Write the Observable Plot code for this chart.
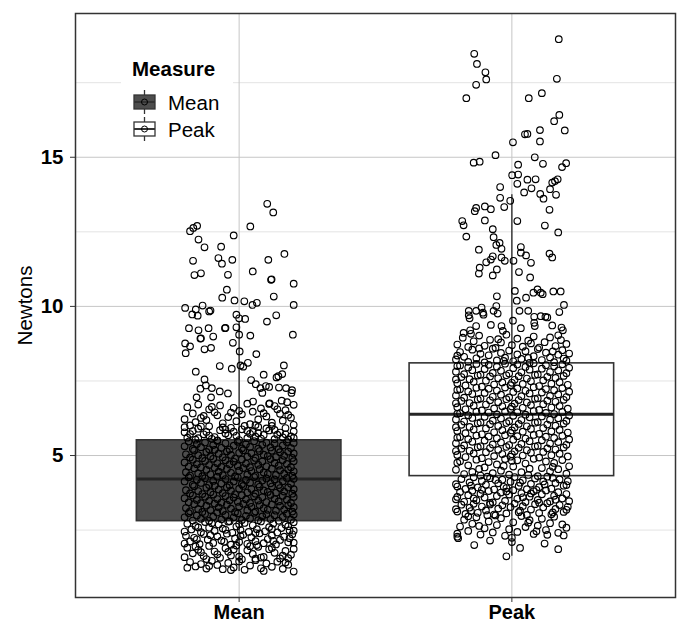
<!DOCTYPE html>
<html>
<head>
<meta charset="utf-8">
<script src="https://cdn.jsdelivr.net/npm/d3@7"></script>
<script src="https://cdn.jsdelivr.net/npm/@observablehq/plot@0.6"></script>
<style>
  html, body { margin: 0; padding: 0; background: #fff; }
  #wrap { position: relative; width: 681px; height: 624px; font-family: "Liberation Sans", Arial, sans-serif; }
  #legend { position: absolute; left: 121px; top: 45px; width: 112px; height: 105px; background: #fff; }
</style>
</head>
<body>
<div id="wrap">
  <div id="chart"></div>
  <div id="legend">
    <svg width="112" height="105" style="font-family:'Liberation Sans', Arial, sans-serif">
      <text x="11" y="31" font-size="20.5" font-weight="bold" fill="#000">Measure</text>
      <g stroke="#333" stroke-width="1.3">
        <line x1="23.5" x2="23.5" y1="45" y2="69"></line>
        <rect x="13" y="50" width="21" height="14" fill="#4d4d4d"></rect>
        <line x1="13" x2="34" y1="57" y2="57" stroke-width="2"></line>
        <circle cx="23.5" cy="57" r="3" fill="none" stroke="#000" stroke-width="1"></circle>
        <line x1="23.5" x2="23.5" y1="72" y2="96"></line>
        <rect x="13" y="77" width="21" height="14" fill="#fff"></rect>
        <line x1="13" x2="34" y1="84" y2="84" stroke-width="2"></line>
        <circle cx="23.5" cy="84" r="3" fill="none" stroke="#000" stroke-width="1"></circle>
      </g>
      <text x="47" y="65" font-size="20.5" fill="#000">Mean</text>
      <text x="47" y="92" font-size="20.5" fill="#000">Peak</text>
    </svg>
  </div>
</div>
<script>
// ---- data ----
const categories = ["Mean", "Peak"];
const boxQ1 = [2.80, 4.31];
const boxMedian = [4.21, 6.38];
const boxQ3 = [5.51, 8.09];
const whiskerLow = [1.11, 1.62];
const whiskerHigh = [9.49, 13.74];
const boxFill = ["#4d4d4d", "#ffffff"];
const yMajorTicks = [5, 10, 15];
const yMinorTicks = [2.5, 7.5, 12.5, 17.5];

// jittered observations: [horizontal jitter offset, Newtons]
const meanPoints = [
[0.103,13.44],[0.125,13.15],[-0.18,12.52],[-0.168,12.63],[-0.154,12.7],[0.041,12.68],[-0.02,12.38],[-0.149,12.24],[-0.127,11.98],[-0.066,12.0],[0.166,11.76],[-0.169,11.53],[-0.076,11.62],[-0.063,11.43],[-0.025,11.56],[0.107,11.56],[-0.164,11.05],[-0.14,11.11],[-0.041,11.06],[0.05,11.17],[0.117,10.89],[0.119,10.91],[0.2,10.76],[-0.045,10.56],[-0.062,10.29],[-0.017,10.2],[0.019,10.17],[0.065,10.12],[0.127,10.33],
[-0.198,9.95],[-0.159,9.9],[-0.172,9.73],[-0.152,9.69],[-0.134,10.03],[-0.105,9.86],[-0.11,9.83],[0.049,10.05],[0.2,10.05],[-0.01,9.72],[0.0,9.6],[0.022,9.58],[0.102,9.49],[0.136,9.7],[-0.184,9.27],[-0.149,9.2],[-0.112,9.27],[-0.052,9.27],[-0.05,9.28],[-0.01,9.3],[-0.142,8.92],[-0.14,8.93],[-0.095,8.99],[0.0,9.05],[0.041,9.02],[0.197,9.05],[-0.198,8.76],[-0.18,8.66],[-0.196,8.43],[-0.127,8.56],[-0.103,8.61],[-0.023,8.78],[0.002,8.49],[0.063,8.4],[-0.071,8.0],[-0.027,7.91],[0.005,8.02],[0.015,7.98],[0.032,8.11],[0.164,8.02],[-0.159,7.81],[-0.127,7.55],[-0.142,7.24],[-0.122,7.35],[-0.1,7.26],[-0.071,7.15],[-0.041,7.08],[-0.156,6.95],[-0.103,6.95],[0.044,7.53],[0.061,7.39],[0.09,7.71],[0.137,7.62],[0.144,7.66],[0.158,7.73],[0.098,7.33],[0.11,7.3],[0.078,7.26],[0.146,7.28],[0.172,7.26],[0.194,7.19],[0.192,7.1],[0.051,6.81],[0.085,7.1],[0.112,6.75],[0.156,6.84],[0.176,6.79],
[-0.19,6.62],[-0.15,6.71],[-0.11,6.55],[-0.07,6.68],[-0.02,6.6],[0.03,6.74],[0.08,6.58],[0.13,6.66],[0.17,6.52],[0.2,6.7],
[-0.17,6.41],[-0.13,6.33],[-0.09,6.45],[-0.04,6.29],[0.01,6.38],[0.05,6.47],[0.1,6.31],[0.15,6.4],[0.19,6.27],[-0.2,6.22],
[-0.16,6.12],[-0.12,6.19],[-0.06,6.08],[-0.01,6.15],[0.04,6.05],[0.07,6.21],[0.12,6.1],[0.16,6.17],[0.2,6.03],[-0.18,6.01],
[-0.14,6.26],[-0.08,6.35],[0.0,6.5],[0.09,6.42],[0.18,6.36],[-0.1,6.63],[0.06,6.02],[0.14,6.55],[-0.03,6.44],[0.11,6.73],
[-0.2,5.95],[-0.17,5.82],[-0.15,5.9],[-0.13,5.71],[-0.11,5.98],[-0.09,5.62],[-0.07,5.85],[-0.05,5.74],[-0.03,5.93],[-0.01,5.66],
[0.01,5.88],[0.03,5.58],[0.05,5.79],[0.07,5.96],[0.09,5.69],[0.11,5.84],[0.13,5.55],[0.15,5.77],[0.17,5.92],[0.19,5.64],
[-0.19,5.6],[-0.16,5.53],[-0.12,5.79],[-0.08,5.51],[-0.04,5.68],[0.0,5.52],[0.04,5.73],[0.08,5.57],[0.12,5.99],[0.16,5.61],
[0.2,5.81],[-0.18,5.72],[-0.14,5.97],[-0.1,5.56],[-0.06,5.94],[-0.02,5.8],[0.02,5.99],[0.06,5.63],[0.1,5.91],[0.14,5.7],
[0.18,5.54],[-0.2,5.78],[0.2,5.59],[-0.11,5.67],[0.07,5.75],[-0.05,5.87],[0.13,5.86],[-0.15,5.58],[0.17,5.71],[0.03,5.83],
[-0.2,5.31],[-0.185,5.47],[-0.17,5.22],[-0.155,5.39],[-0.14,5.28],[-0.125,5.44],[-0.11,5.21],[-0.095,5.35],[-0.08,5.49],[-0.065,5.26],[-0.05,5.41],[-0.035,5.2],[-0.02,5.33],[-0.005,5.46],[0.01,5.24],[0.025,5.38],[0.04,5.29],[0.055,5.48],[0.07,5.23],[0.085,5.36],[0.1,5.43],[0.115,5.27],[0.13,5.4],[0.145,5.21],[0.16,5.34],[0.175,5.45],[0.19,5.25],[0.2,5.42],
[-0.195,5.04],[-0.18,4.93],[-0.165,5.17],[-0.15,5.01],[-0.135,4.91],[-0.12,5.12],[-0.105,4.97],[-0.09,5.19],[-0.075,5.06],[-0.06,4.94],[-0.045,5.14],[-0.03,5.02],[-0.015,4.9],[0.0,5.09],[0.015,5.18],[0.03,4.96],[0.045,5.08],[0.06,4.92],[0.075,5.15],[0.09,5.03],[0.105,4.98],[0.12,5.16],[0.135,4.95],[0.15,5.11],[0.165,4.99],[0.18,5.13],[0.195,4.92],[0.2,5.07],
[-0.2,4.77],[-0.185,4.63],[-0.17,4.86],[-0.155,4.71],[-0.14,4.6],[-0.125,4.82],[-0.11,4.68],[-0.095,4.89],[-0.08,4.74],[-0.065,4.62],[-0.05,4.84],[-0.035,4.7],[-0.02,4.79],[-0.005,4.65],[0.01,4.87],[0.025,4.73],[0.04,4.61],[0.055,4.83],[0.07,4.69],[0.085,4.8],[0.1,4.64],[0.115,4.88],[0.13,4.75],[0.145,4.66],[0.16,4.85],[0.175,4.72],[0.19,4.61],[0.2,4.81],
[-0.195,4.44],[-0.18,4.33],[-0.165,4.57],[-0.15,4.4],[-0.135,4.31],[-0.12,4.52],[-0.105,4.37],[-0.09,4.59],[-0.075,4.46],[-0.06,4.34],[-0.045,4.55],[-0.03,4.42],[-0.015,4.3],[0.0,4.49],[0.015,4.58],[0.03,4.36],[0.045,4.48],[0.06,4.32],[0.075,4.54],[0.09,4.43],[0.105,4.38],[0.12,4.56],[0.135,4.35],[0.15,4.51],[0.165,4.39],[0.18,4.53],[0.195,4.32],[0.2,4.47],
[-0.2,4.13],[-0.185,4.27],[-0.17,4.02],[-0.155,4.19],[-0.14,4.08],[-0.125,4.24],[-0.11,4.01],[-0.095,4.15],[-0.08,4.29],[-0.065,4.06],[-0.05,4.21],[-0.035,4.0],[-0.02,4.13],[-0.005,4.26],[0.01,4.04],[0.025,4.18],[0.04,4.09],[0.055,4.28],[0.07,4.03],[0.085,4.16],[0.1,4.23],[0.115,4.07],[0.13,4.2],[0.145,4.01],[0.16,4.14],[0.175,4.25],[0.19,4.05],[0.2,4.22],
[-0.195,3.84],[-0.18,3.73],[-0.165,3.97],[-0.15,3.81],[-0.135,3.71],[-0.12,3.92],[-0.105,3.77],[-0.09,3.99],[-0.075,3.86],[-0.06,3.74],[-0.045,3.94],[-0.03,3.82],[-0.015,3.7],[0.0,3.89],[0.015,3.98],[0.03,3.76],[0.045,3.88],[0.06,3.72],[0.075,3.95],[0.09,3.83],[0.105,3.78],[0.12,3.96],[0.135,3.75],[0.15,3.91],[0.165,3.79],[0.18,3.93],[0.195,3.72],[0.2,3.87],
[-0.2,3.57],[-0.185,3.43],[-0.17,3.66],[-0.155,3.51],[-0.14,3.4],[-0.125,3.62],[-0.11,3.48],[-0.095,3.69],[-0.08,3.54],[-0.065,3.42],[-0.05,3.64],[-0.035,3.5],[-0.02,3.59],[-0.005,3.45],[0.01,3.67],[0.025,3.53],[0.04,3.41],[0.055,3.63],[0.07,3.49],[0.085,3.6],[0.1,3.44],[0.115,3.68],[0.13,3.55],[0.145,3.46],[0.16,3.65],[0.175,3.52],[0.19,3.41],[0.2,3.61],
[-0.195,3.24],[-0.18,3.13],[-0.165,3.37],[-0.15,3.2],[-0.135,3.11],[-0.12,3.32],[-0.105,3.17],[-0.09,3.39],[-0.075,3.26],[-0.06,3.14],[-0.045,3.35],[-0.03,3.22],[-0.015,3.1],[0.0,3.29],[0.015,3.38],[0.03,3.16],[0.045,3.28],[0.06,3.12],[0.075,3.34],[0.09,3.23],[0.105,3.18],[0.12,3.36],[0.135,3.15],[0.15,3.31],[0.165,3.19],[0.18,3.33],[0.195,3.12],[0.2,3.27],
[-0.2,2.93],[-0.185,3.07],[-0.17,2.82],[-0.155,2.99],[-0.14,2.88],[-0.125,3.04],[-0.11,2.81],[-0.095,2.95],[-0.08,3.09],[-0.065,2.86],[-0.05,3.01],[-0.035,2.8],[-0.02,2.93],[-0.005,3.06],[0.01,2.84],[0.025,2.98],[0.04,2.89],[0.055,3.08],[0.07,2.83],[0.085,2.96],[0.1,3.03],[0.115,2.87],[0.13,3.0],[0.145,2.81],[0.16,2.94],[0.175,3.05],[0.19,2.85],[0.2,3.02],
[-0.19,2.71],[-0.175,2.52],[-0.16,2.64],[-0.14,2.43],[-0.125,2.77],[-0.11,2.58],[-0.09,2.47],[-0.075,2.69],[-0.06,2.55],[-0.04,2.78],[-0.025,2.41],[-0.01,2.62],[0.005,2.5],[0.02,2.74],[0.035,2.44],[0.05,2.66],[0.065,2.53],[0.08,2.79],[0.095,2.46],[0.11,2.6],[0.125,2.72],[0.14,2.42],[0.155,2.57],[0.17,2.68],[0.185,2.49],[0.2,2.76],[-0.2,2.45],[-0.15,2.59],[-0.1,2.73],[-0.05,2.51],[0.0,2.7],[0.06,2.4],[0.12,2.54],[0.18,2.63],[0.2,2.48],
[-0.195,2.31],[-0.18,2.12],[-0.165,2.24],[-0.145,2.03],[-0.13,2.37],[-0.115,2.18],[-0.095,2.07],[-0.08,2.29],[-0.065,2.15],[-0.045,2.38],[-0.03,2.01],[-0.015,2.22],[0.0,2.1],[0.015,2.34],[0.03,2.04],[0.045,2.26],[0.06,2.13],[0.075,2.39],[0.09,2.06],[0.105,2.2],[0.12,2.32],[0.135,2.02],[0.15,2.17],[0.165,2.28],[0.18,2.09],[0.195,2.36],[-0.2,2.05],[-0.155,2.19],[-0.105,2.33],[-0.055,2.11],[0.005,2.3],[0.065,2.0],[0.125,2.14],[0.185,2.23],[0.2,2.08],
[-0.19,1.91],[-0.17,1.72],[-0.15,1.84],[-0.13,1.63],[-0.11,1.97],[-0.09,1.78],[-0.07,1.57],[-0.05,1.89],[-0.03,1.65],[-0.01,1.98],[0.01,1.52],[0.03,1.82],[0.05,1.7],[0.07,1.94],[0.09,1.6],[0.11,1.86],[0.13,1.74],[0.15,1.55],[0.17,1.8],[0.19,1.67],[-0.2,1.59],[-0.16,1.95],[-0.12,1.53],[-0.08,1.69],[-0.04,1.77],[0.0,1.61],[0.04,1.96],[0.08,1.58],[0.12,1.9],[0.16,1.64],[0.2,1.87],[-0.14,1.76],[0.06,1.54],[-0.02,1.85],[0.18,1.56],
[-0.18,1.43],[-0.16,1.28],[-0.14,1.36],[-0.12,1.21],[-0.1,1.47],[-0.08,1.33],[-0.06,1.19],[-0.04,1.4],[-0.02,1.25],[0.0,1.45],[0.02,1.17],[0.04,1.31],[0.06,1.49],[0.08,1.22],[0.1,1.38],[0.12,1.27],[0.14,1.44],[0.16,1.2],[0.18,1.34],[0.2,1.11],[-0.19,1.24],[-0.03,1.16],[0.09,1.13],[-0.11,1.3],[0.17,1.41]
];

const peakPoints = [
[0.172,18.96],[-0.138,18.47],[-0.128,18.13],[-0.097,17.85],[-0.094,17.61],[-0.131,17.43],[0.165,17.63],[-0.167,16.98],[0.062,16.98],[0.11,17.15],[0.174,16.42],[0.155,16.21],[0.103,15.91],[0.194,15.9],[0.048,15.77],[0.057,15.78],
[0.004,15.5],[0.103,15.53],[-0.06,15.07],[-0.14,14.82],[-0.118,14.85],[0.084,15.0],[0.114,14.78],[0.023,14.75],[0.184,14.67],[0.199,14.8],[0.001,14.4],[0.023,14.42],[0.057,14.25],[0.087,14.26],[0.02,14.11],[0.148,14.15],[0.158,14.2],[0.168,14.26],[-0.043,14.0],[0.072,13.96],[0.14,13.93],[0.045,13.82],[0.104,13.77],[0.116,13.61],[0.162,13.74],[-0.043,13.64],[-0.006,13.54],[-0.099,13.35],[-0.131,13.3],[-0.136,13.19],[-0.077,13.26],[-0.028,13.33],[0.138,13.24],[-0.182,12.86],[-0.177,12.72],[-0.099,12.88],[0.02,12.86],[0.121,12.71],[-0.167,12.34],[-0.07,12.59],[-0.067,12.32],[0.17,12.48],
[-0.057,12.06],[-0.045,12.13],[-0.038,11.93],[-0.121,11.9],[0.033,11.99],[0.033,11.8],[0.052,11.71],[0.138,11.77],[0.148,11.64],[-0.07,11.68],[-0.077,11.57],[-0.094,11.48],[-0.038,11.64],[-0.026,11.53],[0.006,11.53],[0.07,11.46],[-0.118,11.3],[-0.121,11.1],[-0.055,11.24],[-0.07,11.04],[0.026,11.15],[0.067,10.97],[0.011,10.52],[0.018,10.19],[-0.055,10.34],[0.052,10.29],[0.079,10.46],[0.094,10.57],[0.113,10.41],[0.106,10.46],[0.152,10.5],[0.179,10.5],[0.191,10.05],
[-0.158,9.85],[-0.158,9.7],[-0.155,9.6],[-0.131,9.85],[-0.111,9.96],[-0.106,9.79],[-0.104,9.72],[-0.067,9.85],[-0.057,10.01],[-0.052,9.76],[0.004,9.52],[0.028,9.85],[0.06,9.85],[0.082,9.65],[0.106,9.67],[0.123,9.65],[0.13,9.63],[0.174,9.81],[0.082,9.45],[0.084,9.34],[0.148,9.36],[0.182,9.29],[0.187,9.2],[-0.177,9.11],[-0.153,9.2],[-0.131,9.34],[-0.077,9.38],[-0.038,9.34],[-0.033,9.18],[0.033,9.27],
[-0.2,8.72],[-0.18,8.95],[-0.16,8.64],[-0.14,8.83],[-0.12,9.02],[-0.1,8.68],[-0.08,8.88],[-0.06,8.61],[-0.04,8.79],[-0.02,9.05],[0.0,8.7],[0.02,8.92],[0.04,8.65],[0.06,8.85],[0.08,8.99],[0.1,8.62],[0.12,8.8],[0.14,8.96],[0.16,8.67],[0.18,8.87],[0.2,8.74],[-0.15,9.08],[-0.05,8.9],[0.07,8.76],[0.17,9.03],
[-0.205,8.22],[-0.19,8.47],[-0.175,8.31],[-0.16,8.14],[-0.145,8.55],[-0.13,8.26],[-0.115,8.41],[-0.1,8.12],[-0.085,8.36],[-0.07,8.58],[-0.055,8.19],[-0.04,8.44],[-0.025,8.28],[-0.01,8.52],[0.005,8.16],[0.02,8.39],[0.035,8.24],[0.05,8.5],[0.065,8.11],[0.08,8.33],[0.095,8.57],[0.11,8.2],[0.125,8.45],[0.14,8.29],[0.155,8.13],[0.17,8.38],[0.185,8.53],[0.2,8.18],[0.21,8.42],[-0.2,8.35],[-0.12,8.59],[-0.03,8.17],[0.06,8.27],[0.15,8.49],[0.19,8.25],
[-0.205,7.81],[-0.19,8.02],[-0.175,7.73],[-0.16,7.95],[-0.145,7.86],[-0.13,8.07],[-0.115,7.71],[-0.1,7.9],[-0.085,8.04],[-0.07,7.77],[-0.055,7.98],[-0.04,7.84],[-0.025,8.08],[-0.01,7.75],[0.005,7.93],[0.02,8.05],[0.035,7.79],[0.05,7.97],[0.065,7.88],[0.08,8.09],[0.095,7.72],[0.11,7.91],[0.125,8.03],[0.14,7.8],[0.155,7.99],[0.17,7.85],[0.185,8.06],[0.2,7.76],[0.21,7.94],[-0.2,8.0],
[-0.2,7.42],[-0.185,7.63],[-0.17,7.35],[-0.155,7.56],[-0.14,7.47],[-0.125,7.68],[-0.11,7.31],[-0.095,7.51],[-0.08,7.65],[-0.065,7.38],[-0.05,7.59],[-0.035,7.45],[-0.02,7.69],[-0.005,7.36],[0.01,7.54],[0.025,7.66],[0.04,7.4],[0.055,7.58],[0.07,7.49],[0.085,7.7],[0.1,7.33],[0.115,7.52],[0.13,7.64],[0.145,7.41],[0.16,7.6],[0.175,7.46],[0.19,7.67],[0.205,7.37],[-0.205,7.55],[0.0,7.44],
[-0.205,7.01],[-0.19,7.22],[-0.175,6.94],[-0.16,7.15],[-0.145,7.06],[-0.13,7.27],[-0.115,6.91],[-0.1,7.1],[-0.085,7.24],[-0.07,6.97],[-0.055,7.18],[-0.04,7.04],[-0.025,7.28],[-0.01,6.95],[0.005,7.13],[0.02,7.25],[0.035,6.99],[0.05,7.17],[0.065,7.08],[0.08,7.29],[0.095,6.92],[0.11,7.11],[0.125,7.23],[0.14,7.0],[0.155,7.19],[0.17,7.05],[0.185,7.26],[0.2,6.96],[0.21,7.14],[-0.2,7.2],
[-0.2,6.62],[-0.185,6.83],[-0.17,6.55],[-0.155,6.76],[-0.14,6.67],[-0.125,6.88],[-0.11,6.51],[-0.095,6.71],[-0.08,6.85],[-0.065,6.58],[-0.05,6.79],[-0.035,6.65],[-0.02,6.89],[-0.005,6.56],[0.01,6.74],[0.025,6.86],[0.04,6.6],[0.055,6.78],[0.07,6.69],[0.085,6.9],[0.1,6.53],[0.115,6.72],[0.13,6.84],[0.145,6.61],[0.16,6.8],[0.175,6.66],[0.19,6.87],[0.205,6.57],[-0.205,6.75],[0.0,6.64],
[-0.205,6.21],[-0.19,6.42],[-0.175,6.14],[-0.16,6.35],[-0.145,6.26],[-0.13,6.47],[-0.115,6.11],[-0.1,6.3],[-0.085,6.44],[-0.07,6.17],[-0.055,6.38],[-0.04,6.24],[-0.025,6.48],[-0.01,6.15],[0.005,6.33],[0.02,6.45],[0.035,6.19],[0.05,6.37],[0.065,6.28],[0.08,6.49],[0.095,6.12],[0.11,6.31],[0.125,6.43],[0.14,6.2],[0.155,6.39],[0.17,6.25],[0.185,6.46],[0.2,6.16],[0.21,6.34],[-0.2,6.4],
[-0.2,5.82],[-0.185,6.03],[-0.17,5.75],[-0.155,5.96],[-0.14,5.87],[-0.125,6.08],[-0.11,5.71],[-0.095,5.91],[-0.08,6.05],[-0.065,5.78],[-0.05,5.99],[-0.035,5.85],[-0.02,6.09],[-0.005,5.76],[0.01,5.94],[0.025,6.06],[0.04,5.8],[0.055,5.98],[0.07,5.89],[0.085,6.1],[0.1,5.73],[0.115,5.92],[0.13,6.04],[0.145,5.81],[0.16,6.0],[0.175,5.86],[0.19,6.07],[0.205,5.77],[-0.205,5.95],[0.0,5.84],
[-0.205,5.41],[-0.19,5.62],[-0.175,5.34],[-0.16,5.55],[-0.145,5.46],[-0.13,5.67],[-0.115,5.31],[-0.1,5.5],[-0.085,5.64],[-0.07,5.37],[-0.055,5.58],[-0.04,5.44],[-0.025,5.68],[-0.01,5.35],[0.005,5.53],[0.02,5.65],[0.035,5.39],[0.05,5.57],[0.065,5.48],[0.08,5.69],[0.095,5.32],[0.11,5.51],[0.125,5.63],[0.14,5.4],[0.155,5.59],[0.17,5.45],[0.185,5.66],[0.2,5.36],[0.21,5.54],[-0.2,5.6],
[-0.2,5.02],[-0.185,5.23],[-0.17,4.95],[-0.155,5.16],[-0.14,5.07],[-0.125,5.28],[-0.11,4.91],[-0.095,5.11],[-0.08,5.25],[-0.065,4.98],[-0.05,5.19],[-0.035,5.05],[-0.02,5.29],[-0.005,4.96],[0.01,5.14],[0.025,5.26],[0.04,5.0],[0.055,5.18],[0.07,5.09],[0.085,5.3],[0.1,4.93],[0.115,5.12],[0.13,5.24],[0.145,5.01],[0.16,5.2],[0.175,5.06],[0.19,5.27],[0.205,4.97],[-0.205,5.15],[0.0,5.04],
[-0.205,4.52],[-0.19,4.81],[-0.175,4.38],[-0.16,4.67],[-0.145,4.45],[-0.13,4.86],[-0.115,4.33],[-0.1,4.6],[-0.085,4.78],[-0.07,4.41],[-0.055,4.7],[-0.04,4.49],[-0.025,4.88],[-0.01,4.36],[0.005,4.63],[0.02,4.84],[0.035,4.44],[0.05,4.73],[0.065,4.56],[0.08,4.89],[0.095,4.31],[0.11,4.58],[0.125,4.8],[0.14,4.47],[0.155,4.75],[0.17,4.54],[0.185,4.85],[0.2,4.39],[0.21,4.64],[-0.2,4.76],[-0.12,4.55],[-0.03,4.65],[0.06,4.35],[0.15,4.62],[0.0,4.82],
[-0.2,3.96],[-0.185,4.21],[-0.17,3.88],[-0.155,4.1],[-0.14,4.27],[-0.125,3.93],[-0.11,4.15],[-0.095,4.02],[-0.08,4.24],[-0.065,3.86],[-0.05,4.07],[-0.035,4.19],[-0.02,3.91],[-0.005,4.12],[0.01,4.28],[0.025,3.98],[0.04,4.17],[0.055,3.87],[0.07,4.05],[0.085,4.23],[0.1,3.94],[0.115,4.13],[0.13,4.29],[0.145,3.89],[0.16,4.08],[0.175,4.2],[0.19,3.99],[0.205,4.14],[-0.205,4.04],[-0.15,3.99],[-0.09,4.29],[-0.03,3.95],[0.03,4.09],[0.09,3.85],[0.15,4.25],[0.2,4.01],[-0.06,4.18],[0.12,4.03],
[-0.205,3.53],[-0.19,3.78],[-0.175,3.45],[-0.16,3.67],[-0.145,3.82],[-0.13,3.5],[-0.115,3.72],[-0.1,3.59],[-0.085,3.81],[-0.07,3.43],[-0.055,3.64],[-0.04,3.76],[-0.025,3.48],[-0.01,3.69],[0.005,3.84],[0.02,3.55],[0.035,3.74],[0.05,3.44],[0.065,3.62],[0.08,3.8],[0.095,3.51],[0.11,3.7],[0.125,3.83],[0.14,3.46],[0.155,3.65],[0.17,3.77],[0.185,3.56],[0.2,3.71],[-0.2,3.61],[-0.14,3.56],[-0.08,3.41],[-0.02,3.79],[0.04,3.6],[0.1,3.42],[0.16,3.52],[0.21,3.47],[-0.11,3.85],[0.07,3.73],
[-0.2,3.12],[-0.185,3.35],[-0.17,3.04],[-0.155,3.25],[-0.14,3.38],[-0.125,3.08],[-0.11,3.29],[-0.095,3.16],[-0.08,3.36],[-0.065,3.02],[-0.05,3.22],[-0.035,3.33],[-0.02,3.06],[-0.005,3.27],[0.01,3.39],[0.025,3.1],[0.04,3.3],[0.055,3.01],[0.07,3.19],[0.085,3.37],[0.1,3.07],[0.115,3.26],[0.13,3.4],[0.145,3.03],[0.16,3.21],[0.175,3.34],[0.19,3.11],[0.205,3.28],[-0.205,3.2],[-0.15,3.14],[-0.09,3.0],[0.03,3.15],[0.15,3.09],[0.2,3.18],
[-0.2,2.38],[-0.19,2.62],[-0.175,2.85],[-0.16,2.47],[-0.145,2.71],[-0.13,2.93],[-0.115,2.35],[-0.1,2.56],[-0.085,2.79],[-0.07,2.42],[-0.055,2.67],[-0.04,2.9],[-0.025,2.31],[-0.01,2.53],[0.005,2.76],[0.02,2.44],[0.035,2.97],[0.05,2.6],[0.065,2.83],[0.08,2.37],[0.095,2.65],[0.11,2.88],[0.125,2.5],[0.14,2.73],[0.155,2.95],[0.17,2.41],[0.185,2.69],[0.2,2.58],[-0.2,2.28],[-0.12,2.64],[0.0,2.24],[0.09,2.46],[0.19,2.32],[-0.06,2.99],[0.13,2.34],[-0.16,2.96],[0.06,2.75],
[-0.02,1.62],[0.03,1.9],[0.17,1.86],[-0.138,2.0],[-0.197,2.23],[0.0,2.1],[-0.08,2.15],[0.12,2.05]
];

// ---- build tables for the library ----
const boxes = categories.map((c, i) => ({
  cat: c, pos: i + 1, q1: boxQ1[i], med: boxMedian[i], q3: boxQ3[i],
  lo: whiskerLow[i], hi: whiskerHigh[i], fill: boxFill[i]
}));
const points = [
  ...meanPoints.map(([dx, y]) => ({x: 1 + dx, y})),
  ...peakPoints.map(([dx, y]) => ({x: 2 + dx, y}))
];
const halfWidth = 0.375;

const chart = Plot.plot({
  width: 681,
  height: 624,
  marginLeft: 75,
  marginRight: 6,
  marginTop: 13,
  marginBottom: 27,
  style: {fontFamily: "'Liberation Sans', Arial, sans-serif", background: "#fff", color: "#000"},
  x: {type: "linear", domain: [0.4, 2.6]},
  y: {type: "linear", domain: [0.24, 19.82]},
  marks: [
    Plot.ruleY(yMinorTicks, {stroke: "#e3e3e3", strokeWidth: 1}),
    Plot.ruleY(yMajorTicks, {stroke: "#c6c6c6", strokeWidth: 1}),
    Plot.ruleX(boxes, {x: "pos", stroke: "#c6c6c6", strokeWidth: 1}),
    Plot.ruleX(boxes, {x: "pos", y1: "q3", y2: "hi", stroke: "#333", strokeWidth: 1.4}),
    Plot.ruleX(boxes, {x: "pos", y1: "lo", y2: "q1", stroke: "#333", strokeWidth: 1.4}),
    Plot.rect(boxes, {x1: d => d.pos - halfWidth, x2: d => d.pos + halfWidth, y1: "q1", y2: "q3",
      fill: "fill", stroke: "#333", strokeWidth: 1.6}),
    Plot.ruleY(boxes, {y: "med", x1: d => d.pos - halfWidth, x2: d => d.pos + halfWidth, stroke: "#262626", strokeWidth: 3}),
    Plot.dot(points, {x: "x", y: "y", r: 3.3, fill: "none", stroke: "#000", strokeWidth: 1.15}),
    Plot.frame({stroke: "#333", strokeWidth: 1.5}),
    Plot.axisY({ticks: yMajorTicks, tickSize: 5, tickPadding: 7, fontSize: 20.5, fontWeight: "bold", label: null, stroke: "#333"}),
    Plot.axisX({ticks: [1, 2], tickFormat: d => categories[d - 1], tickSize: 5, tickPadding: 2, fontSize: 20, fontWeight: "bold", label: null, stroke: "#333"}),
    Plot.text(["Newtons"], {frameAnchor: "left", textAnchor: "middle", dx: -50, rotate: -90, fontSize: 20.5, fill: "#000"})
  ]
});
document.getElementById("chart").appendChild(chart);
</script>
</body>
</html>
